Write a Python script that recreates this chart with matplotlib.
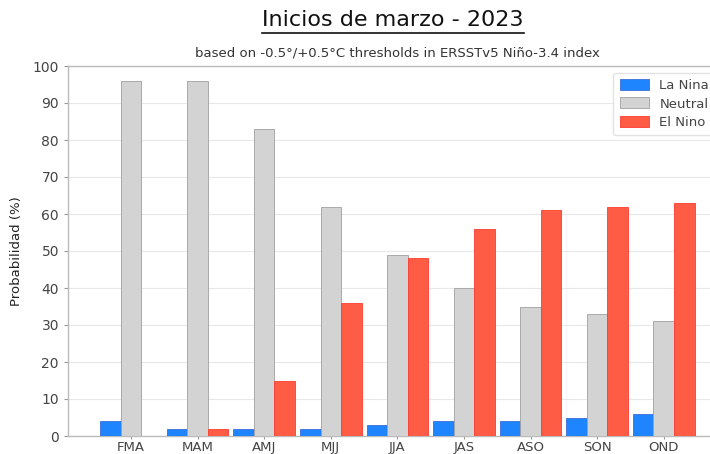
import matplotlib
matplotlib.use("Agg")
import matplotlib.pyplot as plt
import numpy as np
from matplotlib.lines import Line2D

seasons = ["FMA", "MAM", "AMJ", "MJJ", "JJA", "JAS", "ASO", "SON", "OND"]
la_nina = [4, 2, 2, 2, 3, 4, 4, 5, 6]
neutral = [96, 96, 83, 62, 49, 40, 35, 33, 31]
el_nino = [0, 2, 15, 36, 48, 56, 61, 62, 63]
yticks = list(range(0, 101, 10))

title = "Inicios de marzo - 2023"
subtitle = "based on -0.5°/+0.5°C thresholds in ERSSTv5 Niño-3.4 index"

fig = plt.figure(figsize=(7.1, 4.54), dpi=100)
W, H = 710, 454
ax = fig.add_axes([68 / W, 1 - 436 / H, (727 - 68) / W, (436 - 66) / H])

x = np.arange(len(seasons))
w = 0.308
ax.bar(x - w, la_nina, w, color="#1f85ff", edgecolor="#3a6fd8", linewidth=0.6, label="La Nina", zorder=3)
ax.bar(x, neutral, w, color="#d3d3d3", edgecolor="#a0a0a0", linewidth=0.6, label="Neutral", zorder=3)
ax.bar(x + w, el_nino, w, color="#ff5c45", edgecolor="#ff3b30", linewidth=0.6, label="El Nino", zorder=3)

ax.set_xlim(-0.946, 8.95)
ax.set_ylim(0, 100)
ax.set_yticks(yticks)
ax.set_xticks(x)
ax.set_xticklabels(seasons)
ax.tick_params(axis="both", colors="#999999", labelcolor="#444444", labelsize=10, length=3, width=0.8)
ax.tick_params(axis="x", pad=1, length=2.5, labelsize=9.5)
ax.yaxis.grid(True, color="#e8e8e8", linewidth=0.8, zorder=0)
ax.set_axisbelow(True)
for s in ax.spines.values():
    s.set_color("#bbbbbb")
    s.set_linewidth(1.0)
ax.set_ylabel("Probabilidad (%)", fontsize=9.5, color="#222222", labelpad=7)

leg = ax.legend(loc="upper right", bbox_to_anchor=(0.993, 1.0), fontsize=9.5,
                frameon=True, fancybox=True, handlelength=2.2, handleheight=0.9,
                labelspacing=0.4, borderpad=0.5)
leg.get_frame().set_edgecolor("#dddddd")
for t in leg.get_texts():
    t.set_color("#444444")

ax.set_title(subtitle, fontsize=9.5, color="#333333", pad=7)

t = fig.text(393 / W, 1 - 20 / H, title, ha="center", va="center", fontsize=16,
             color="#111111")
fig.canvas.draw()
bb = t.get_window_extent()
fig.add_artist(Line2D([bb.x0 / W, bb.x1 / W],
                      [1 - 33 / H, 1 - 33 / H], color="#111111", linewidth=1.2,
                      transform=fig.transFigure))

fig.savefig("out.png", dpi=100)
